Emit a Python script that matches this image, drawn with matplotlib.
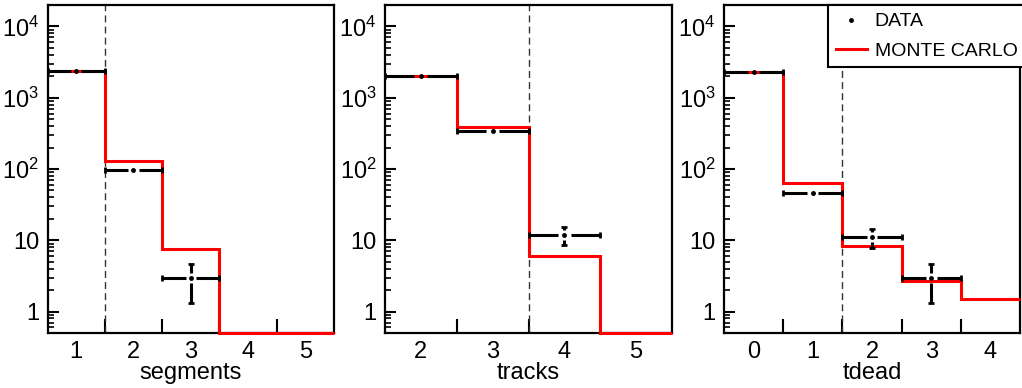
import numpy as np
import matplotlib
matplotlib.use("Agg")
import matplotlib.pyplot as plt
from matplotlib.lines import Line2D
from matplotlib.ticker import FixedLocator, FixedFormatter, NullFormatter

plt.rcParams['font.family'] = ['Liberation Sans', 'DejaVu Sans']
plt.rcParams['mathtext.default'] = 'regular'

# segments
seg_centers = [1, 2, 3, 4, 5]
seg_mc = [2350, 128, 7.6, 0, 0]
seg_data_x = [1, 2, 3]
seg_data = [2350, 98, 3.0]
seg_err = [48, 10, 1.7]
seg_cut = 1.5

# tracks
trk_centers = [2, 3, 4, 5]
trk_mc = [2000, 390, 6.1, 0]
trk_data_x = [2, 3, 4]
trk_data = [2000, 340, 12]
trk_err = [45, 18, 3.5]
trk_cut = 3.5

# tdead
td_centers = [0, 1, 2, 3, 4]
td_mc = [2300, 63, 8.2, 2.7, 1.5]
td_data_x = [0, 1, 2, 3]
td_data = [2300, 46, 11, 3.0]
td_err = [48, 6.8, 3.3, 1.7]
td_cut = 1.5

panels = [
    ("segments", seg_centers, seg_mc, seg_data_x, seg_data, seg_err, seg_cut),
    ("tracks", trk_centers, trk_mc, trk_data_x, trk_data, trk_err, trk_cut),
    ("tdead", td_centers, td_mc, td_data_x, td_data, td_err, td_cut),
]

W, H = 1022, 388
YMIN, YMAX = 0.5, 2e4
fig = plt.figure(figsize=(W / 100, H / 100), dpi=100)

# axes boxes in pixels: left, right
boxes = [(47.5, 334), (385, 672), (724, 1020)]
top_px, bot_px = 5, 333


def draw_data(ax, xs, ys, errs):
    gx = 0.09
    f = 10 ** (5 / 71)
    for x, y, e in zip(xs, ys, errs):
        ax.plot([x - 0.5, x - gx], [y, y], color='k', lw=2.2, solid_capstyle='butt', zorder=4)
        ax.plot([x + gx, x + 0.5], [y, y], color='k', lw=2.2, solid_capstyle='butt', zorder=4)
        ax.plot([x - 0.5, x + 0.5], [y, y], ls='none', marker='|', ms=5, mew=2, color='k', zorder=4)
        if y + e > y * f:
            ax.plot([x, x], [y * f, y + e], color='k', lw=2.2, solid_capstyle='butt', zorder=4)
            ax.plot([x], [y + e], ls='none', marker='_', ms=5, mew=2, color='k', zorder=4)
        if y - e < y / f:
            ax.plot([x, x], [y / f, y - e], color='k', lw=2.2, solid_capstyle='butt', zorder=4)
            ax.plot([x], [y - e], ls='none', marker='_', ms=5, mew=2, color='k', zorder=4)
        ax.plot([x], [y], ls='none', marker='o', ms=2.5, color='k', zorder=5)


for (name, centers, mc, dx, dy, derr, cut), (l, r) in zip(panels, boxes):
    ax = fig.add_axes([l / W, 1 - bot_px / H, (r - l) / W, (bot_px - top_px) / H])
    centers = np.array(centers, dtype=float)
    edges = np.append(centers - 0.5, centers[-1] + 0.5)
    ax.set_yscale('log')
    ax.set_xlim(edges[0], edges[-1])
    ax.set_ylim(YMIN, YMAX)

    ax.stairs(np.maximum(np.array(mc, dtype=float), YMIN), edges, baseline=None,
              color='red', lw=2.2, clip_on=False, zorder=3)
    draw_data(ax, dx, dy, derr)
    ax.axvline(cut, color='#333333', lw=1, ls=(0, (5, 3)), zorder=2)

    # x: labels at bin centres, tick marks at bin edges
    ax.xaxis.set_major_locator(FixedLocator(centers))
    ax.xaxis.set_major_formatter(FixedFormatter([str(int(c)) for c in centers]))
    ax.xaxis.set_minor_locator(FixedLocator(edges[1:-1]))
    ax.tick_params(axis='x', which='major', length=0, pad=6, labelsize=17)
    ax.tick_params(axis='x', which='minor', direction='in', length=10, width=1.5)

    ax.yaxis.set_major_locator(FixedLocator([1, 10, 100, 1000, 10000]))
    ax.yaxis.set_major_formatter(FixedFormatter(['1', '10', '$10^{2}$', '$10^{3}$', '$10^{4}$']))
    minors = [m * 10 ** k for k in range(-1, 5) for m in range(2, 10)]
    ax.yaxis.set_minor_locator(FixedLocator(minors))
    ax.yaxis.set_minor_formatter(NullFormatter())
    ax.tick_params(axis='y', which='major', direction='in', length=8, width=1.5, labelsize=17, pad=6)
    ax.tick_params(axis='y', which='minor', direction='in', length=4, width=1.2)

    for s in ax.spines.values():
        s.set_linewidth(1.6)
    ax.set_xlabel(name, fontsize=17, labelpad=-1)

handles = [Line2D([], [], ls='none', marker='o', ms=2.5, color='k'),
           Line2D([], [], color='red', lw=2.2)]
leg = fig.legend(handles, ['DATA', 'MONTE CARLO'], loc='upper left',
                 bbox_to_anchor=(828 / W, 1 - 5 / H), borderaxespad=0, fontsize=14,
                 fancybox=False, framealpha=1, edgecolor='k', handlelength=1.6,
                 handletextpad=0.4, borderpad=0.4, labelspacing=0.6)
leg.get_frame().set_linewidth(1.5)

fig.savefig('out.png', dpi=100)
